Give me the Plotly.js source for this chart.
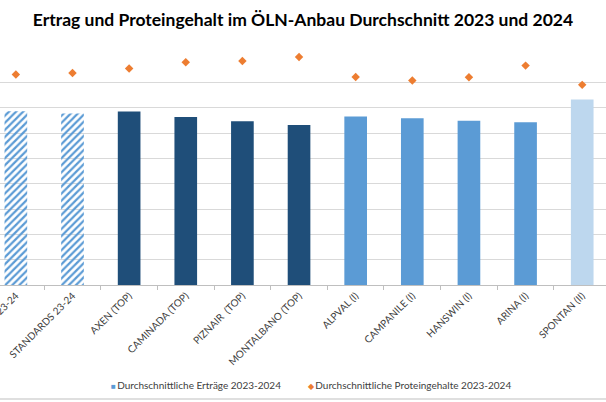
<!DOCTYPE html>
<html><head><meta charset="utf-8">
<script src="https://cdn.plot.ly/plotly-3.0.1.min.js"></script>
<style>html,body{margin:0;padding:0;background:#fff;overflow:hidden}</style>
</head><body><div id="chart" style="width:606px;height:402px"></div>
<script>
// ---- data ----
const categories = ["MITTEL 23-24", "STANDARDS 23-24", "AXEN (TOP)", "CAMINADA (TOP)", "PIZNAIR  (TOP)",
  "MONTALBANO (TOP)", "ALPVAL (I)", "CAMPANILE (I)", "HANSWIN (I)", "ARINA (I)", "SPONTAN (II)"];
const ertraege = [68.6, 67.7, 68.5, 66.3, 64.6, 63.2, 66.5, 65.8, 64.8, 64.2, 73.2];
const proteingehalte = [14.31, 14.37, 14.55, 14.79, 14.84, 15.0, 14.21, 14.07, 14.20, 14.66, 13.90];
const klassen = ["Mittel", "Mittel", "TOP", "TOP", "TOP", "TOP", "I", "I", "I", "I", "II"];
const seriesNames = ["Durchschnittliche Erträge 2023-2024", "Durchschnittliche Proteingehalte 2023-2024"];
const titleText = "Ertrag und Proteingehalt im ÖLN-Anbau Durchschnitt 2023 und 2024";

// ---- styles ----
const klassenFarbe = {Mittel: "#5B9BD5", TOP: "#1F4E79", I: "#5B9BD5", II: "#BDD7EE"};
const FONT = "Lato, 'Open Sans', sans-serif";
const TXT = "#404040";

const barTrace = {
  type: "bar", x: categories, y: ertraege, name: seriesNames[0], showlegend: false,
  width: 0.4,
  marker: {
    color: klassen.map(k => klassenFarbe[k]),
    line: {width: 0},
    pattern: {
      shape: klassen.map(k => k === "Mittel" ? "/" : ""),
      bgcolor: klassen.map(k => k === "Mittel" ? "#E3EEF9" : "rgba(0,0,0,0)"),
      size: 5, solidity: 0.45, fillmode: "replace"
    }
  },
  hoverinfo: "x+y"
};
const protTrace = {
  type: "scatter", mode: "markers", x: categories, y: proteingehalte, yaxis: "y2",
  name: seriesNames[1], showlegend: false, cliponaxis: false,
  marker: {symbol: "diamond", size: 6.5, color: "#ED7D31"}
};

const plotTop = 57, plotBottom = 285, plotH = plotBottom - plotTop;
const pyPaper = px => (plotBottom - px) / plotH;
const gap = '<span style="font-size:5px"> </span>';

const layout = {
  width: 606, height: 402,
  margin: {l: 0, r: 0, t: plotTop, b: 402 - plotBottom, pad: 0},
  paper_bgcolor: "#FFFFFF", plot_bgcolor: "#FFFFFF",
  font: {family: FONT, color: TXT, size: 10},
  title: {text: titleText, font: {family: FONT, size: 17.5, color: "#000000", weight: "bold"},
          x: 0.5, xref: "paper", xanchor: "center", y: 1 - 20 / 402, yref: "container", yanchor: "middle"},
  bargap: 0.6,
  xaxis: {
    type: "category", range: [-0.28, 10.42], tickangle: -45,
    tickfont: {family: FONT, size: 10, color: TXT},
    ticks: "outside", tickson: "boundaries", ticklen: 4, tickcolor: "#BFBFBF",
    showline: true, linecolor: "#BFBFBF", linewidth: 1, showgrid: false,
    automargin: false, fixedrange: true
  },
  yaxis: {
    range: [0, 90], dtick: 10, showticklabels: false, showgrid: true,
    gridcolor: "#D9D9D9", gridwidth: 1, zeroline: false, showline: false, ticks: "",
    automargin: false, fixedrange: true
  },
  yaxis2: {range: [6, 15], overlaying: "y", side: "right", visible: false, showgrid: false, fixedrange: true},
  annotations: [
    {xref: "paper", yref: "paper", x: 109 / 606, y: pyPaper(385), xanchor: "left", yanchor: "middle", showarrow: false,
     text: '<span style="color:#5B9BD5;font-size:8px">■</span>' + gap + seriesNames[0], font: {family: FONT, size: 10, color: TXT}},
    {xref: "paper", yref: "paper", x: 306 / 606, y: pyPaper(385), xanchor: "left", yanchor: "middle", showarrow: false,
     text: '<span style="color:#ED7D31;font-size:8px">◆</span>' + gap + seriesNames[1], font: {family: FONT, size: 10, color: TXT}}
  ],
  shapes: [
    {type: "line", xref: "paper", yref: "paper", x0: 0, x1: 1, y0: pyPaper(399), y1: pyPaper(399),
     line: {color: "#BFBFBF", width: 1}}
  ]
};

Plotly.newPlot("chart", [barTrace, protTrace], layout, {displayModeBar: false, staticPlot: true});
</script></body></html>
